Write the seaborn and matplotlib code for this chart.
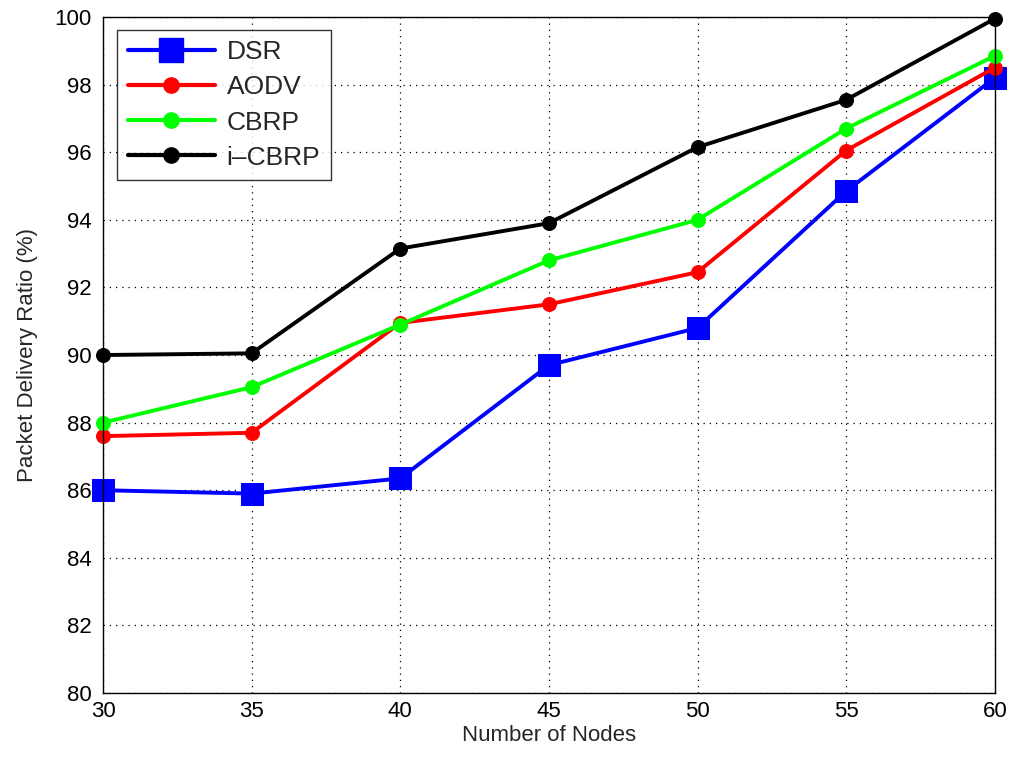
import matplotlib
matplotlib.use("Agg")
import matplotlib.pyplot as plt
import seaborn as sns
import pandas as pd
from matplotlib.lines import Line2D

nodes = [30, 35, 40, 45, 50, 55, 60]
dsr = [86.0, 85.9, 86.35, 89.7, 90.8, 94.85, 98.2]
aodv = [87.6, 87.7, 90.95, 91.5, 92.45, 96.05, 98.5]
cbrp = [88.0, 89.05, 90.9, 92.8, 94.0, 96.7, 98.85]
icbrp = [90.0, 90.05, 93.15, 93.9, 96.15, 97.55, 99.95]
series_names = ["DSR", "AODV", "CBRP", "i\u2013CBRP"]
xticks = [30, 35, 40, 45, 50, 55, 60]
yticks = [80, 82, 84, 86, 88, 90, 92, 94, 96, 98, 100]

sns.set_style("white")
plt.rcParams["font.family"] = ["Liberation Sans", "DejaVu Sans"]

rows = []
for name, vals in zip(series_names, [dsr, aodv, cbrp, icbrp]):
    for x, v in zip(nodes, vals):
        rows.append({"Nodes": x, "PDR": v, "Protocol": name})
df = pd.DataFrame(rows)

fig = plt.figure(figsize=(10.13, 7.63), dpi=100)
ax = fig.add_axes([0.1017, 0.0917, 0.8803, 0.886])

palette = {"DSR": "#0000ff", "AODV": "#ff0000", "CBRP": "#00ff00", "i\u2013CBRP": "#000000"}
markers = {"DSR": "s", "AODV": "o", "CBRP": "o", "i\u2013CBRP": "o"}
sns.lineplot(data=df, x="Nodes", y="PDR", hue="Protocol", style="Protocol",
             palette=palette, markers=markers, dashes=False, linewidth=2.8,
             ax=ax, legend=False)
for line, name in zip(ax.lines, series_names):
    line.set_markersize(16 if name == "DSR" else 10)
    line.set_markeredgecolor(palette[name])
    line.set_clip_on(False)

ax.set_xlim(30, 60)
ax.set_ylim(80, 100)
ax.set_xticks(xticks)
ax.set_yticks(yticks)
ax.grid(True, color="black", linestyle=(0, (1, 4)), linewidth=0.9)
ax.tick_params(direction="in", length=6, labelsize=16, colors="black")
ax.tick_params(axis="y", pad=8)
ax.tick_params(axis="x", pad=6)
for sp in ax.spines.values():
    sp.set_color("black")
    sp.set_linewidth(1.0)
ax.set_xlabel("Number of Nodes", fontsize=16, labelpad=2)
ax.set_ylabel("Packet Delivery Ratio (%)", fontsize=16, labelpad=12)

handles = [Line2D([0], [0], color=palette[n], lw=3.0, marker=markers[n],
                  markersize=17 if n == "DSR" else 11, markeredgecolor=palette[n])
           for n in series_names]
leg = ax.legend(handles, series_names, loc="upper left", bbox_to_anchor=(0.0157, 0.981),
                fontsize=19, frameon=True, fancybox=False, edgecolor="black",
                handlelength=3.3, borderpad=0.4, labelspacing=0.42, handletextpad=0.45,
                borderaxespad=0)
leg.get_frame().set_linewidth(1.0)

fig.savefig("out.png", dpi=100)
